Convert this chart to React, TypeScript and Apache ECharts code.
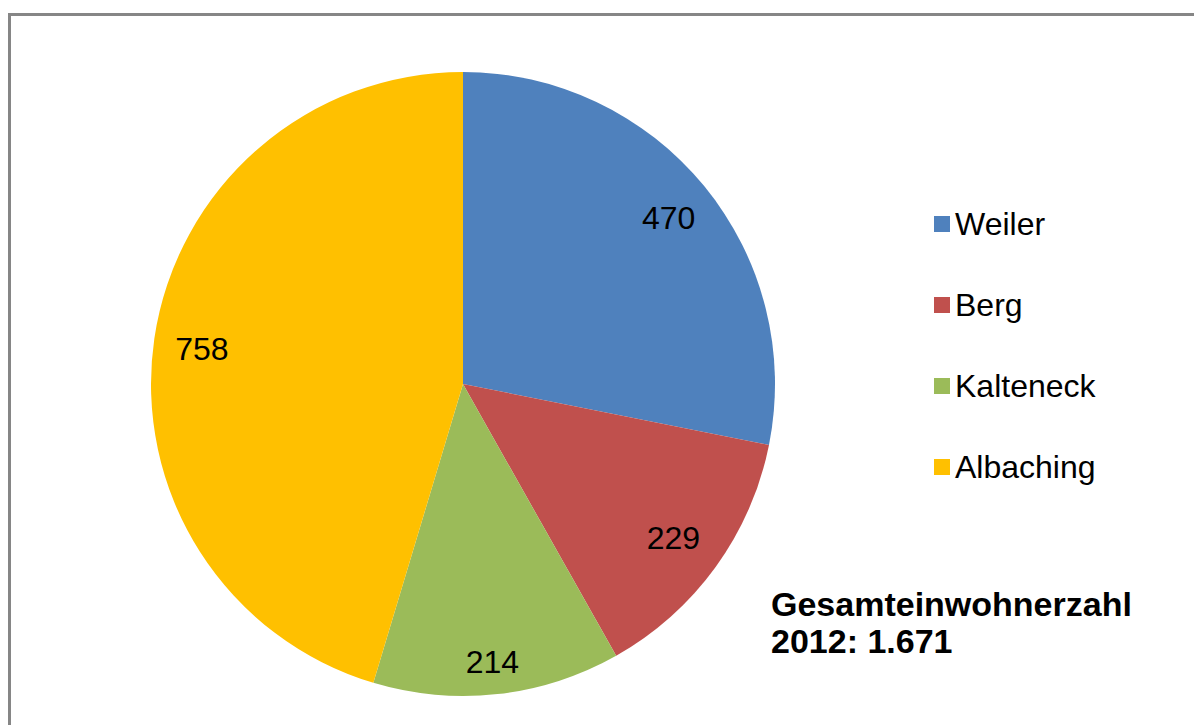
import React, { useEffect, useRef } from "react";
import * as echarts from "echarts";

const categories = ["Weiler", "Berg", "Kalteneck", "Albaching"];
const values = [470, 229, 214, 758];
const colors = ["#4F81BD", "#C0504D", "#9BBB59", "#FFC000"];
const labelOffsets = [[0, 3], [-5, -2], [0, 14], [2, 4]];
const totalLabel = "Gesamteinwohnerzahl\n2012: 1.671";

const FONT = "'Liberation Sans', Arial, sans-serif";

export default function App() {
  const ref = useRef<HTMLDivElement>(null);
  useEffect(() => {
    document.body.style.margin = "0";
    const chart = echarts.init(ref.current!, null, { renderer: "svg" });
    const data = categories.map((name, i) => ({
      name,
      value: values[i],
      itemStyle: { color: colors[i] },
    }));
    chart.setOption({
      animation: false,
      backgroundColor: "#ffffff",
      textStyle: { fontFamily: FONT },
      legend: {
        orient: "vertical",
        left: 929,
        top: 203,
        itemWidth: 16,
        itemHeight: 16,
        itemGap: 49,
        icon: "rect",
        data: categories,
        selectedMode: false,
        textStyle: {
          fontSize: 32,
          lineHeight: 32,
          color: "#000",
          fontFamily: FONT,
        },
      },
      graphic: [
        {
          type: "rect",
          shape: { x: 9.5, y: 14.5, width: 1200, height: 720 },
          style: { fill: "none", stroke: "#868686", lineWidth: 3 },
          silent: true,
        },
        {
          type: "text",
          left: 771,
          top: 585,
          style: {
            text: totalLabel,
            fontSize: 34,
            fontWeight: "bold",
            lineHeight: 37,
            fill: "#000",
            fontFamily: FONT,
          },
        },
      ],
      series: [
        {
          type: "pie",
          center: [463, 384],
          radius: [0, 312],
          startAngle: 90,
          clockwise: true,
          data,
          label: { show: false },
          labelLine: { show: false },
          itemStyle: { borderWidth: 0 },
          emphasis: { disabled: true },
        },
        {
          type: "pie",
          center: [463, 384],
          radius: [214, 312],
          startAngle: 90,
          clockwise: true,
          silent: true,
          data: categories.map((name, i) => ({
            name,
            value: values[i],
            itemStyle: { color: "rgba(0,0,0,0)" },
            label: { offset: labelOffsets[i] },
          })),
          label: {
            show: true,
            position: "inside",
            formatter: "{c}",
            fontSize: 32,
            color: "#000",
            fontFamily: FONT,
          },
          labelLine: { show: false },
          itemStyle: { borderWidth: 0 },
          emphasis: { disabled: true },
        },
      ],
    });
    return () => chart.dispose();
  }, []);
  return <div ref={ref} style={{ width: 1194, height: 725 }} />;
}
